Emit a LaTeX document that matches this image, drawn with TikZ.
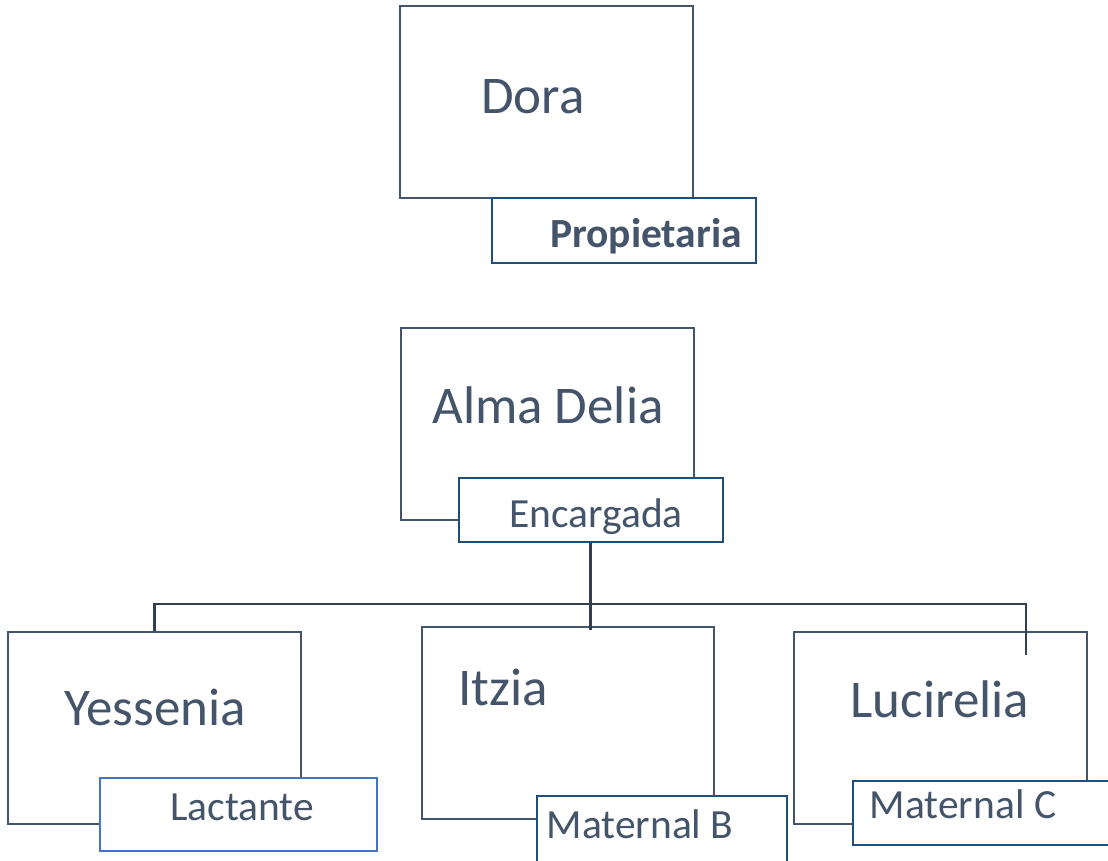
\documentclass[tikz,border=0pt]{standalone}
\usepackage{fontspec}
\setmainfont{Carlito}
\definecolor{txt}{HTML}{44546A}
\definecolor{boxc}{HTML}{44546A}
\definecolor{labc}{HTML}{1F4E79}
\definecolor{lightb}{HTML}{4472C4}
\definecolor{conc}{HTML}{333F50}
\begin{document}
\begin{tikzpicture}[x=1pt,y=-1pt,
  person/.style={draw=boxc,line width=2.3pt,fill=white,inner sep=0pt,minimum width=293pt,minimum height=192pt},
  rolebox/.style={draw=labc,line width=2.5pt,fill=white,inner sep=0pt},
  bigtxt/.style={text=txt,font=\fontsize{53}{60}\selectfont,anchor=base,inner sep=0pt},
  smalltxt/.style={text=txt,font=\fontsize{41.5}{46}\selectfont,anchor=base,inner sep=0pt},
  conn/.style={draw=conc,line width=2.5pt}]
\clip (0,0) rectangle (1108,860);
\fill[white] (0,0) rectangle (1108,860);
% person boxes and role boxes
\node[person] (dora) at (546.5,102) {};
\node[rolebox,minimum width=264pt,minimum height=65pt] (prop) at (624,230.5) {};
\node[person] (alma) at (547.5,424) {};
\node[rolebox,minimum width=264pt,minimum height=64pt] (enc) at (591,510) {};
\node[person] (yes) at (154.5,728) {};
\node[rolebox,draw=lightb,minimum width=277pt,minimum height=73pt] (lac) at (238.5,814.5) {};
\node[person,minimum width=292pt] (itz) at (568,723) {};
\node[rolebox,minimum width=250pt,minimum height=79pt] (matb) at (662,835.5) {};
\node[person] (luc) at (940.5,728) {};
\node[rolebox,minimum width=267pt,minimum height=64pt] (matc) at (986.5,813) {};
% texts
\node[bigtxt] (tdora) at (533,113) {Dora};
\node[smalltxt,font=\fontsize{41.5}{46}\selectfont\bfseries] (tprop) at (646,247) {Propietaria};
\node[bigtxt] (talma) at (548,423) {Alma Delia};
\node[smalltxt] (tenc) at (596,527) {Encargada};
\node[bigtxt] (tyes) at (155,725) {Yessenia};
\node[smalltxt] (tlac) at (242,820) {Lactante};
\node[bigtxt] (titz) at (503,705) {Itzia};
\node[smalltxt] (tmatb) at (640,838) {Maternal B};
\node[bigtxt] (tluc) at (940,717) {Lucirelia};
\node[smalltxt] (tmatc) at (963,818) {Maternal C};
% connectors
\coordinate (hub) at (590,604);
\coordinate (itzend) at (590,630);
\coordinate (lucend) at (1026,655);
\draw[conn,line width=3pt] (enc.south -| hub) -- (hub);
\draw[conn] (hub) -| (yes.north);
\draw[conn,line width=3pt] (hub) -- (itzend);
\draw[conn] (hub) -| (lucend);
\end{tikzpicture}
\end{document}
